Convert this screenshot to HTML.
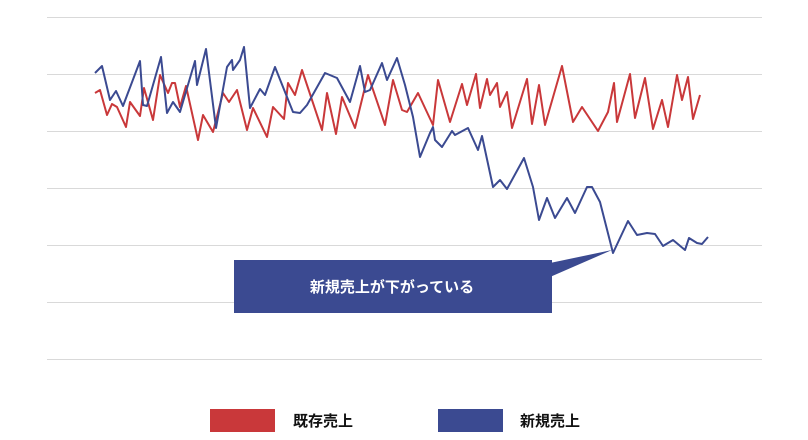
<!DOCTYPE html>
<html><head><meta charset="utf-8"><style>
html,body{margin:0;padding:0;background:#fff;}
svg{display:block;}
text{font-family:"Liberation Sans","Noto Sans CJK JP",sans-serif;font-weight:bold;}
</style></head><body>
<svg width="808" height="440" viewBox="0 0 808 440" xmlns="http://www.w3.org/2000/svg">
<g stroke="#d9d9d9" stroke-width="1">
<line x1="47" y1="17.5" x2="762" y2="17.5"/>
<line x1="47" y1="74.5" x2="762" y2="74.5"/>
<line x1="47" y1="131.5" x2="762" y2="131.5"/>
<line x1="47" y1="188.5" x2="762" y2="188.5"/>
<line x1="47" y1="245.5" x2="762" y2="245.5"/>
<line x1="47" y1="302.5" x2="762" y2="302.5"/>
<line x1="47" y1="359.5" x2="762" y2="359.5"/>
</g>
<polyline fill="none" stroke="#c9383a" stroke-width="2" stroke-linejoin="round" points="95,93 100,90 107,115 112,104 117,107 126,127 130,102 140,116 144,88 153,120 160,75 168,93 172,83 175,83 180,107 186,86 198,140 203,115 213,132 223,93 229,102 237,90 247,130 253,108 267,137 273,107 284,119 288,83 295,95 302,70 322,130 327,93 336,134 342,97 355,128 368,75 385,125 393,80 402,110 407,112 418,93 425,108 433,125 438,80 450,122 462,84 467,105 476,74 480,108 487,79 490,95 497,83 500,107 507,92 512,128 527,79 532,124 539,85 545,125 562,66 573,122 582,107 598,131 608,112 614,83 617,122 630,74 635,118 645,78 653,129 662,100 668,127 677,75 682,100 688,77 693,119 700,95"/>
<polyline fill="none" stroke="#3b4a91" stroke-width="2" stroke-linejoin="round" points="95,73 102,66 110,100 116,91 123,106 140,61 143,105 147,106 161,57 167,113 173,102 180,112 195,61 197,85 206,49 216,128 227,67 232,60 233,70 240,60 244,47 250,108 260,89 265,95 275,67 293,112 300,113 307,105 325,73 337,78 350,102 360,66 365,92 370,90 382,63 387,80 397,58 405,85 413,117 420,157 430,133 433,127 435,140 442,147 452,131 455,135 468,128 478,150 482,136 493,187 500,180 507,189 524,158 533,187 539,220 547,198 555,218 567,198 575,213 587,187 592,187 600,202 613,253 628,221 637,235 647,233 655,234 663,246 673,240 685,250 689,238 697,243 702,244 708,237"/>
<polygon points="550,263 550,277 612,250" fill="#3b4a91"/>
<rect x="234" y="260" width="318" height="53" fill="#3b4a91"/>
<text x="392" y="292" fill="#fff" font-size="15" text-anchor="middle">新規売上が下がっている</text>
<rect x="210" y="409" width="65" height="23" fill="#c9383a"/>
<text x="293" y="426" fill="#111" font-size="15">既存売上</text>
<rect x="438" y="409" width="65" height="23" fill="#3b4a91"/>
<text x="520" y="426" fill="#111" font-size="15">新規売上</text>
</svg>
</body></html>
